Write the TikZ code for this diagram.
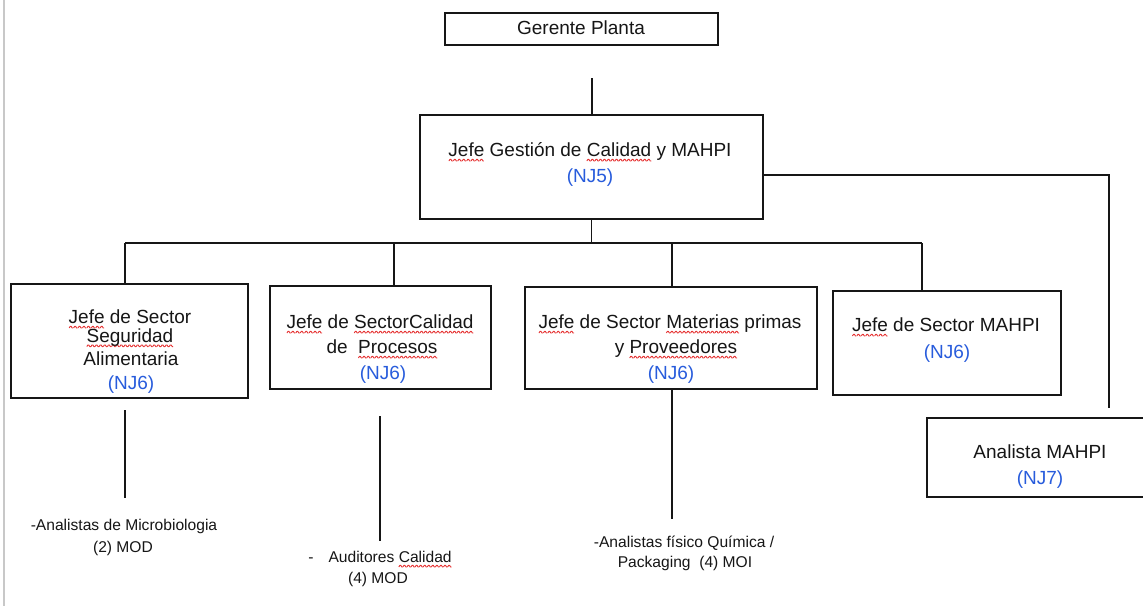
\documentclass[tikz,border=0pt]{standalone}
\usepackage{fontspec}
\setmainfont{Liberation Sans}
\definecolor{ink}{RGB}{22,22,22}
\definecolor{njblue}{RGB}{40,92,220}
\definecolor{spellred}{RGB}{230,50,50}
\definecolor{edge}{RGB}{200,200,200}
\newcommand\mainsz{\fontsize{19}{23}\selectfont}
\newcommand\smallsz{\fontsize{15.6}{19}\selectfont}
% wavy red underline for flagged words
\newsavebox\wavebox
\newsavebox\wordbox
\newcommand\spell[1]{\sbox\wordbox{#1}\rlap{\lower5pt\hbox to\wd\wordbox{\xleaders\copy\wavebox\hfil}}\usebox\wordbox}
\begin{document}
\sbox\wavebox{\pgfpicture
  \pgfsetlinewidth{0.9pt}\pgfsetstrokecolor{spellred}\pgfsetroundjoin
  \pgfpathmoveto{\pgfpoint{0pt}{0pt}}
  \pgfpathlineto{\pgfpoint{1pt}{1.6pt}}
  \pgfpathlineto{\pgfpoint{2pt}{1.6pt}}
  \pgfpathlineto{\pgfpoint{3pt}{0pt}}
  \pgfpathlineto{\pgfpoint{4pt}{0pt}}
  \pgfusepath{stroke}
  \pgfresetboundingbox
  \pgfpathrectangle{\pgfpoint{0pt}{-0.6pt}}{\pgfpoint{4pt}{2.8pt}}
  \pgfusepath{use as bounding box}
\endpgfpicture}
\begin{tikzpicture}[x=1pt,y=-1pt,
  box/.style={draw=ink, line width=1.5pt, inner sep=0pt},
  lbl/.style={anchor=base, inner sep=0pt, text=ink, font=\mainsz},
  nj/.style={lbl, text=njblue},
  sub/.style={anchor=base, inner sep=0pt, text=ink, font=\smallsz},
  link/.style={draw=ink, line width=1.5pt}]
\fill[white] (0,0) rectangle (1143,606);
\useasboundingbox (0,0) rectangle (1143,606);
\clip (0,0) rectangle (1143,606);
\draw[edge, line width=1.2pt] (4,0) -- (4,606);

% boxes
\node[box, minimum width=273pt, minimum height=32pt]  (gp) at (581.5,29)  {};
\node[box, minimum width=343pt, minimum height=104pt] (jg) at (591.5,167) {};
\node[box, minimum width=237pt, minimum height=114pt] (b1) at (129.5,341) {};
\node[box, minimum width=221pt, minimum height=103pt] (b2) at (380.5,337.5) {};
\node[box, minimum width=292pt, minimum height=102pt] (b3) at (671,338) {};
\node[box, minimum width=228pt, minimum height=104pt] (b4) at (947,343) {};
\node[box, minimum width=233pt, minimum height=79pt]  (an) at (1043.5,457.5) {};

% box texts
\node[lbl] (gpt) at (581,34.6) {Gerente Planta};
\node[lbl] (jgt) at (590,156.6) {\spell{Jefe} Gestión de \spell{Calidad} y MAHPI};
\node[nj]  (jgn) at (590,182.6) {(NJ5)};

\node[lbl] (b1t1) at (130,323.6) {\spell{Jefe} de Sector};
\node[lbl] (b1t2) at (130,342.2) {\spell{Seguridad}};
\node[lbl] (b1t3) at (131,365.6) {Alimentaria};
\node[nj]  (b1n)  at (131,389.6) {(NJ6)};

\node[lbl] (b2t1) at (380,328.6) {\spell{Jefe} de \spell{SectorCalidad}};
\node[lbl] (b2t2) at (382,353.6) {de\ \ \spell{Procesos}};
\node[nj]  (b2n)  at (383,379.6) {(NJ6)};

\node[lbl] (b3t1) at (670,328.6) {\spell{Jefe} de Sector \spell{Materias} primas};
\node[lbl] (b3t2) at (676,353.6) {y \spell{Proveedores}};
\node[nj]  (b3n)  at (671,379.6) {(NJ6)};

\node[lbl] (b4t1) at (946,331.6) {\spell{Jefe} de Sector MAHPI};
\node[nj]  (b4n)  at (947,358.6) {(NJ6)};

\node[lbl] (ant) at (1040,458.6) {Analista MAHPI};
\node[nj]  (ann) at (1040,484.6) {(NJ7)};

% staff under each sector
\node[sub] (s1t1) at (124,530.6) {-Analistas de Microbiologia};
\node[sub] (s1t2) at (123,552.6) {(2) MOD};
\node[sub] (s2t1) at (380,562.6) {-\hspace{15pt}Auditores \spell{Calidad}};
\node[sub] (s2t2) at (378,583.6) {(4) MOD};
\node[sub] (s3t1) at (684,547.6) {-Analistas físico Química /};
\node[sub] (s3t2) at (685,567.6) {Packaging\ \ (4) MOI};

% connectors
\coordinate (gtop) at (592,78);
\draw[link] (gtop) -- (gtop |- jg.north);
\coordinate (bus) at (591.5,243);
\draw[link] (jg.south) -- (bus);
\coordinate (t1) at (125,243);
\coordinate (t2) at (394,243);
\coordinate (t3) at (672,243);
\coordinate (t4) at (922,243);
\draw[link] (t1) -- (t4);
\draw[link] (t1) -- (t1 |- b1.north);
\draw[link] (t2) -- (t2 |- b2.north);
\draw[link] (t3) -- (t3 |- b3.north);
\draw[link] (t4) -- (t4 |- b4.north);

\coordinate (r0) at (1109,175);
\coordinate (r1) at (1109,408);
\draw[link] (r0 -| jg.east) -- (r0) -- (r1);

\coordinate (s1a) at (125,410);
\coordinate (s1b) at (125,498);
\draw[link] (s1a) -- (s1b);
\coordinate (s2a) at (380,416);
\coordinate (s2b) at (380,541);
\draw[link] (s2a) -- (s2b);
\coordinate (s3b) at (672,519);
\draw[link] (s3b |- b3.south) -- (s3b);
\end{tikzpicture}
\end{document}
